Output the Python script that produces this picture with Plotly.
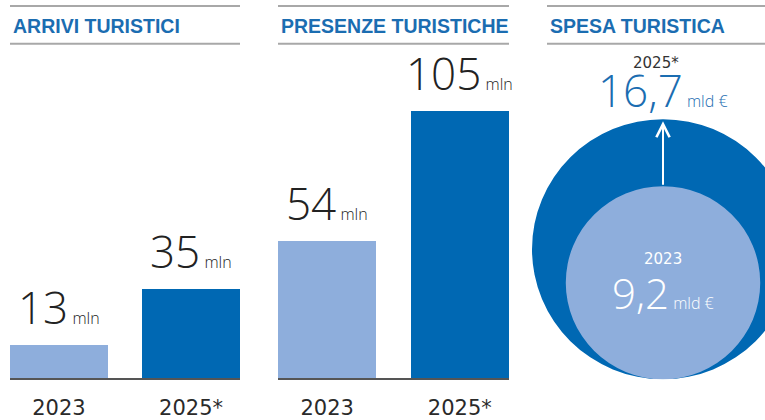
import math
import plotly.graph_objects as go

W, H = 765, 420

# ---- data ----
years = ["2023", "2025*"]
arrivi = [13, 35]          # mln
presenze = [54, 105]       # mln
spesa = [9.2, 16.7]        # mld €
titles = ["ARRIVI TURISTICI", "PRESENZE TURISTICHE", "SPESA TURISTICA"]
unit_bar = "mln"
unit_spesa = "mld €"

# ---- style ----
LIGHT = "#8eaedc"
DARK = "#0068b3"
TITLE_BLUE = "#1b6db1"
TEXT = "#222222"
RULE = "#a8a8a8"
NUMFONT = "Open Sans"
SMALLFONT = "DejaVu Sans"
TITLEFONT = "Liberation Sans"


def px(x):
    return x / W


def py(y):
    return 1 - y / H


def fmt(v):
    s = f"{v:.1f}" if v % 1 else f"{int(v)}"
    return s.replace(".", ",")


fig = go.Figure()

xpos = [0, 1]
bw = 0.742
bar_px_per_unit = 2.565
bar_top_px, bar_base_px = 44, 381
ymax = (bar_base_px - bar_top_px) / bar_px_per_unit

panels = [(arrivi, "x", "y", 10, 240), (presenze, "x2", "y2", 278, 509)]
for vals, xa, ya, x0, x1 in panels:
    fig.add_trace(go.Bar(
        x=xpos, y=vals, width=bw,
        marker=dict(color=[LIGHT, DARK], line_width=0),
        xaxis=xa, yaxis=ya, hoverinfo="skip", showlegend=False,
    ))
    for xv, v in zip(xpos, vals):
        fig.add_annotation(
            x=xv, y=v, xref=xa, yref=ya, showarrow=False,
            yanchor="bottom", yshift=6,
            text=f"{fmt(v)}<span style='font-size:16px'> {unit_bar}</span>",
            font=dict(family=NUMFONT, size=44, color=TEXT, weight=300),
        )

axis_common = dict(showgrid=False, zeroline=False, fixedrange=True)
tick_common = dict(tickvals=xpos, ticktext=years, ticks="outside", ticklen=10,
                   tickcolor="rgba(0,0,0,0)", showline=True, linecolor="#555555",
                   linewidth=1.5, tickfont=dict(family=SMALLFONT, size=21, color="#2a2a2a"))
fig.update_layout(
    xaxis=dict(domain=[px(10), px(240)], range=[-bw / 2, 1 + bw / 2],
               **tick_common, **axis_common),
    yaxis=dict(domain=[py(bar_base_px), py(bar_top_px)], range=[0, ymax],
               visible=False, **axis_common),
    xaxis2=dict(domain=[px(278), px(509)], range=[-bw / 2, 1 + bw / 2],
                anchor="y2", **tick_common, **axis_common),
    yaxis2=dict(domain=[py(bar_base_px), py(bar_top_px)], range=[0, ymax],
                visible=False, anchor="x2", **axis_common),
)

# ---- circles panel (area proportional to value) ----
circ_base_px = 382
k = 131 / math.sqrt(max(spesa))
r_small = k * math.sqrt(spesa[0])
r_big = k * math.sqrt(spesa[1])
cx_px = 663
fig.update_layout(
    xaxis3=dict(domain=[px(520), 1.0], range=[-(cx_px - 520), 765 - cx_px],
                visible=False, anchor="y3", **axis_common),
    yaxis3=dict(domain=[py(circ_base_px), py(44)], range=[0, circ_base_px - 44],
                visible=False, anchor="x3", **axis_common),
)
# invisible trace so the third axes are created
fig.add_trace(go.Scatter(x=[0], y=[0], xaxis="x3", yaxis="y3", mode="markers",
                         marker=dict(opacity=0), hoverinfo="skip", showlegend=False))
for r, col in [(r_big, DARK), (r_small, LIGHT)]:
    fig.add_shape(type="circle", xref="x3", yref="y3",
                  x0=-r, x1=r, y0=0, y1=2 * r,
                  fillcolor=col, line_width=0, layer="below")

# arrow from small circle top to big circle top
fig.add_annotation(x=0, y=2 * r_big, ax=0, ay=2 * r_small,
                   xref="x3", yref="y3", axref="x3", ayref="y3",
                   showarrow=True, arrowhead=5, arrowsize=1.3, arrowwidth=2,
                   arrowcolor="white", standoff=2, text="")

# labels for big circle (above)
fig.add_annotation(x=0, y=2 * r_big, xref="x3", yref="y3", showarrow=False,
                   yanchor="bottom", yshift=-3,
                   text=f"{fmt(spesa[1])}<span style='font-size:16px'> {unit_spesa}</span>",
                   font=dict(family=NUMFONT, size=44, color=TITLE_BLUE, weight=300))
fig.add_annotation(x=0, y=2 * r_big, xref="x3", yref="y3", showarrow=False,
                   yanchor="bottom", yshift=45, xshift=-7, text=years[1],
                   font=dict(family=SMALLFONT, size=15, color="#333333"))
# labels for small circle (inside)
fig.add_annotation(x=0, y=r_small, xref="x3", yref="y3", showarrow=False,
                   yanchor="middle", yshift=-10,
                   text=f"{fmt(spesa[0])}<span style='font-size:16px'> {unit_spesa}</span>",
                   font=dict(family=NUMFONT, size=42, color="white", weight=300))
fig.add_annotation(x=0, y=r_small, xref="x3", yref="y3", showarrow=False,
                   yanchor="middle", yshift=24, text=years[0],
                   font=dict(family=SMALLFONT, size=15, color="white"))

# ---- headers ----
for title, x0, x1 in [(titles[0], 10, 240), (titles[1], 278, 509), (titles[2], 547, 765)]:
    for yl in (6, 44):
        fig.add_shape(type="line", xref="paper", yref="paper",
                      x0=px(x0), x1=px(x1), y0=py(yl), y1=py(yl),
                      line=dict(color=RULE, width=2))
    fig.add_annotation(x=px(x0 + 1), y=py(26), xref="paper", yref="paper",
                       xanchor="left", yanchor="middle", showarrow=False,
                       text=f"<b>{title}</b>",
                       font=dict(family=TITLEFONT, size=19.5, color=TITLE_BLUE))

fig.update_layout(
    width=W, height=H, margin=dict(l=0, r=0, t=0, b=0),
    paper_bgcolor="white", plot_bgcolor="rgba(0,0,0,0)",
    bargap=0, showlegend=False,
)

fig.write_html("out.html")
